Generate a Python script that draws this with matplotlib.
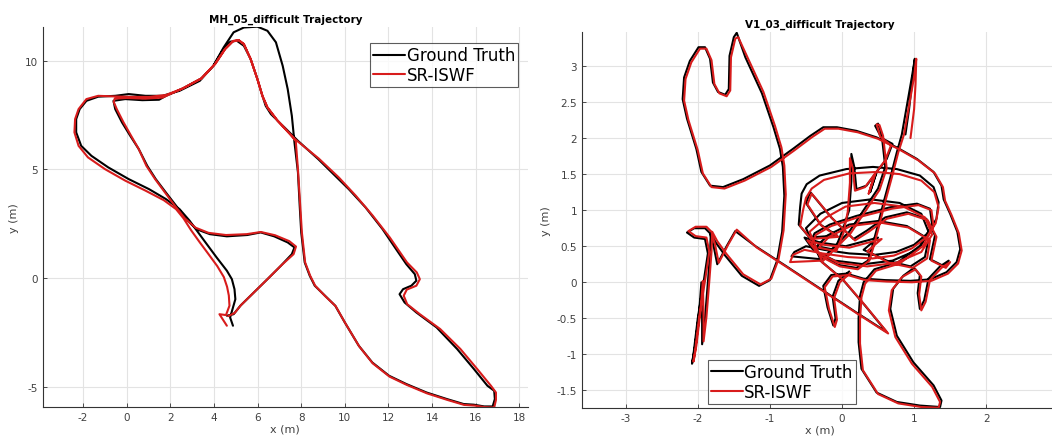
import matplotlib
matplotlib.use("Agg")
import matplotlib.pyplot as plt

plt.rcParams['font.family'] = ['DejaVu Sans']
plt.rcParams['axes.unicode_minus'] = False

# ---- MH_05_difficult (left) ----
mh_gt_x = [4.87, 4.74, 4.98, 4.94, 4.82, 4.59, 4.12, 3.5, 2.88, 2.42, 1.8, 1.02, 0.09, -0.85, -1.62,
           -2.09, -2.32, -2.32, -2.16, -1.85, -1.31, -0.53, 0.09, 0.86, 1.64, 2.42, 3.35, 3.97, 4.44,
           4.9, 5.37, 5.99, 6.45, 6.84, 7.15, 7.38, 7.57, 7.69, 7.85, 7.93, 8.0, 8.16, 8.39, 8.62, 9.09,
           9.56, 10.0, 10.64, 11.26, 12.03, 12.82, 13.75, 14.68, 15.45, 15.92, 16.39, 16.78, 16.88,
           16.85, 16.54, 15.92, 15.15, 14.21, 13.28, 12.74, 12.51, 12.67, 13.05, 13.28, 13.21, 12.82,
           12.35, 11.73, 10.95, 10.18, 9.56, 8.78, 7.85, 7.23, 6.61, 6.37, 6.22, 5.99, 5.68, 5.37,
           5.05, 4.75, 4.44, 3.97, 3.42, 2.57, 1.8, 1.48, 0.71, -0.07, -0.61, -0.53, -0.22, 0.16,
           0.55, 0.94, 1.33, 1.79, 2.26, 2.72, 3.19, 3.81, 4.59, 5.52, 6.14, 6.76, 7.38, 7.69, 7.57,
           7.07, 6.45, 5.83, 5.21, 4.9, 4.59]
mh_gt_y = [-2.19, -1.81, -0.97, -0.51, -0.05, 0.34, 0.95, 1.79, 2.64, 3.17, 3.63, 4.09, 4.55, 5.09,
           5.62, 6.08, 6.7, 7.31, 7.77, 8.15, 8.34, 8.38, 8.46, 8.38, 8.38, 8.61, 9.07, 9.76, 10.6,
           11.3, 11.52, 11.56, 11.37, 10.84, 9.76, 8.69, 7.46, 6.24, 4.86, 3.33, 2.1, 0.72, 0.11,
           -0.35, -0.81, -1.27, -2.04, -3.11, -3.88, -4.49, -4.87, -5.26, -5.56, -5.79, -5.82, -5.9,
           -5.9, -5.56, -5.18, -4.95, -4.18, -3.26, -2.27, -1.58, -1.12, -0.74, -0.51, -0.35, -0.12,
           0.18, 0.64, 1.33, 2.25, 3.25, 4.09, 4.7, 5.47, 6.31, 6.93, 7.54, 7.92, 8.38, 9.15, 10.07,
           10.68, 10.91, 10.87, 10.53, 9.76, 9.18, 8.72, 8.38, 8.2, 8.18, 8.23, 8.15, 7.77, 7.16,
           6.54, 5.93, 5.16, 4.55, 3.94, 3.33, 2.71, 2.25, 2.02, 1.92, 1.98, 2.1, 1.92, 1.64, 1.41,
           1.1, 0.57, -0.05, -0.66, -1.27, -1.66, -1.73]

mh_est_x = [4.59, 4.25, 4.55, 4.71, 4.68, 4.6, 4.45, 4.15, 3.75, 3.35, 2.95, 2.6, 2.26, 1.7, 0.86,
            -0.07, -1.0, -1.78, -2.21, -2.4, -2.37, -2.21, -1.85, -1.31, -0.53, 0.24, 1.02, 1.8,
            2.57, 3.42, 4.05, 4.51, 4.9, 5.13, 5.37, 5.68, 5.99, 6.22, 6.45, 6.92, 7.5, 7.75, 7.85,
            7.95, 8.03, 8.18, 8.41, 8.64, 9.1, 9.58, 10.02, 10.66, 11.28, 12.05, 12.84, 13.77, 14.7,
            15.47, 15.95, 16.4, 16.85, 16.93, 16.93, 16.7, 16.07, 15.3, 14.37, 13.44, 12.86, 12.7,
            12.84, 13.28, 13.44, 13.3, 12.85, 12.06, 11.28, 10.5, 9.72, 8.8, 7.7, 6.92, 6.45, 6.22,
            5.99, 5.68, 5.37, 5.13, 4.85, 4.51, 4.05, 3.42, 2.57, 1.64, 0.86, 0.0, -0.55, -0.6,
            -0.45, -0.15, 0.2, 0.55, 0.9, 1.3, 1.75, 2.2, 2.66, 3.15, 3.75, 4.55, 5.5, 6.15, 6.8,
            7.45, 7.76, 7.65, 7.1, 6.48, 5.86, 5.24, 4.95, 4.65]
mh_est_y = [-2.19, -1.66, -1.7, -1.27, -0.8, -0.4, 0.05, 0.55, 1.1, 1.64, 2.2, 2.75, 3.17, 3.58,
            4.02, 4.48, 5.01, 5.55, 6.08, 6.7, 7.31, 7.77, 8.23, 8.38, 8.35, 8.33, 8.33, 8.42, 8.72,
            9.18, 9.84, 10.53, 10.91, 10.94, 10.76, 10.07, 9.15, 8.38, 7.85, 7.23, 6.6, 6.3, 5.0,
            3.4, 2.1, 0.72, 0.11, -0.35, -0.83, -1.29, -2.07, -3.14, -3.92, -4.53, -4.91, -5.3,
            -5.6, -5.83, -5.86, -5.93, -5.95, -5.6, -5.26, -4.95, -4.18, -3.26, -2.34, -1.66, -1.2,
            -0.81, -0.53, -0.35, -0.05, 0.26, 0.72, 1.87, 2.87, 3.79, 4.63, 5.5, 6.4, 7.23, 7.85,
            8.38, 9.15, 10.07, 10.76, 10.94, 10.88, 10.53, 9.84, 9.18, 8.72, 8.3, 8.25, 8.28, 8.25,
            8.1, 7.75, 7.16, 6.54, 5.93, 5.16, 4.55, 3.94, 3.33, 2.75, 2.32, 2.08, 1.98, 2.02, 2.12,
            1.97, 1.7, 1.45, 1.1, 0.6, -0.02, -0.63, -1.24, -1.6, -1.75]

# ---- V1_03_difficult (right) ----
v1_gt_x = [0.88, 0.93, 0.97, 1.01, 0.97, 0.9, 0.83, 0.76, 0.67, 0.58, 0.5, 0.42, 0.36,
           0.2, -0.05, -0.3, -0.44, -0.38, -0.17, 0.2, 0.67, 1.04, 1.22, 1.25, 1.1, 0.78, 0.45,
           0.3, 0.25, 0.23, 0.23, 0.27, 0.48, 0.76, 1.08, 1.36, 1.38, 1.27, 0.99, 0.76, 0.67, 0.71, 0.85,
           1.0, 1.08, 1.05, 1.08, 1.14, 1.2, 1.36, 1.48, 1.42, 1.22,
           1.29, 1.17, 0.9, 0.6, 0.35, 0.16, -0.15, -0.44, -0.5, -0.3, -0.07, -0.45, -0.6,
           -0.58, -0.56, -0.49, -0.31, 0.06, 0.43, 0.76, 1.08, 1.27, 1.34, 1.31, 1.2, 1.0, 0.75,
           0.45, 0.1, -0.25, -0.5, -0.66, -0.7, -0.3,
           -0.5, -0.3, 0.0, 0.4, 0.8, 1.1, 1.2, 1.05, 0.7, 0.3, -0.1, -0.4, -0.52, -0.3, 0.05,
           0.5, 0.3, 0.62, 0.95, 1.15, 1.2, 0.9, 0.5, 0.1, -0.2, -0.35, -0.1, 0.0,
           0.1, 0.13, 0.13, 0.17, 0.2, 0.34, 0.48, 0.39, 0.48, 0.62, 0.7, 0.55, 0.46, 0.5, 0.55,
           0.6, 0.5, 0.3, 0.1, -0.1, -0.3, 0.0, 0.3, 0.62, 0.2, -0.3, -0.8, -1.2, -1.48,
           -1.6, -1.73, -1.78, -1.83, -1.9, -2.05, -2.15, -2.05, -1.9, -1.86, -1.92, -2.0, -2.06,
           -2.08, -2.04, -1.98, -1.95, -1.94, -1.94, -1.9, -1.86, -1.83, -1.82, -1.75, -1.62, -1.39,
           -1.15, -1.0, -0.9, -0.83, -0.8, -0.82, -0.86, -0.95, -1.11, -1.34, -1.46, -1.5, -1.56,
           -1.57, -1.62, -1.72, -1.79, -1.83, -1.9, -1.99, -2.11, -2.19, -2.21, -2.15, -2.02, -1.95,
           -1.83, -1.65, -1.37, -1.0, -0.68, -0.44, -0.26, -0.07, 0.2, 0.48, 0.76, 1.04, 1.27, 1.38,
           1.41, 1.5, 1.6, 1.64, 1.59, 1.45, 1.22, 0.95, 0.6, 0.3, 0.06, -0.15, -0.26, -0.2, -0.12,
           -0.09, -0.13, -0.05, 0.1]
v1_gt_y = [2.05, 2.4, 2.75, 3.1, 2.85, 2.45, 2.05, 1.8, 1.45, 1.12, 0.8, 0.5, 0.3,
           0.2, 0.24, 0.37, 0.55, 0.68, 0.8, 0.92, 1.04, 1.09, 1.02, 0.8, 0.52, 0.28, 0.18,
           0.0, -0.19, -0.5, -0.83, -1.2, -1.53, -1.66, -1.71, -1.73, -1.64, -1.43, -1.11, -0.74,
           -0.37, -0.09, 0.09,
           0.2, 0.1, -0.15, -0.37, -0.25, 0.05, 0.22, 0.3, 0.22, 0.32,
           0.65, 0.88, 0.97, 0.9, 0.72, 0.6, 0.9, 1.25, 1.1, 0.8, 0.65, 0.62, 0.8,
           1.05, 1.23, 1.36, 1.48, 1.57, 1.6, 1.57, 1.48, 1.32, 1.11, 0.88, 0.69, 0.52, 0.42,
           0.38, 0.4, 0.45, 0.5, 0.42, 0.36, 0.32,
           0.75, 0.95, 1.1, 1.15, 1.1, 0.95, 0.7, 0.45, 0.3, 0.25, 0.3, 0.45, 0.62, 0.55, 0.5,
           0.62, 0.45, 0.3, 0.22, 0.35, 0.6, 0.78, 0.85, 0.8, 0.65, 0.5, 0.45, 0.7,
           1.0, 1.4, 1.78, 1.6, 1.29, 1.34, 1.53, 1.25, 1.53, 1.71, 1.92, 2.0, 2.17, 2.2, 2.05,
           1.6, 1.3, 1.0, 0.7, 0.5, 0.3, 0.05, -0.3, -0.69, -0.42, -0.09, 0.24, 0.5, 0.71,
           0.5, 0.25, 0.5, 0.68, 0.75, 0.75, 0.69, 0.62, 0.6, 0.4, 0.0, -0.5, -1.0,
           -1.13, -0.9, -0.4, 0.0, -0.5, -0.86, -0.5, 0.0, 0.4, 0.68, 0.55, 0.37, 0.09,
           -0.05, 0.03, 0.3, 0.7, 1.2, 1.6, 1.85, 2.15, 2.62, 3.12, 3.46, 3.4, 3.14,
           2.68, 2.6, 2.64, 2.77, 3.1, 3.26, 3.26, 3.07, 2.84, 2.54, 2.27, 1.85, 1.53,
           1.34, 1.32, 1.43, 1.62, 1.85, 2.03, 2.15, 2.15, 2.1, 2.01, 1.87, 1.71, 1.53, 1.34,
           1.15, 0.95, 0.7, 0.46, 0.28, 0.14, 0.04, 0.02, 0.03, 0.05, 0.12, 0.1, -0.05, -0.35, -0.6,
           -0.5, -0.2, 0.02, 0.15]

v1_est_x = [0.95, 1.0, 1.02, 1.03, 1.0, 0.93, 0.86, 0.78, 0.69, 0.6, 0.52, 0.44, 0.38,
            0.22, -0.03, -0.28, -0.42, -0.36, -0.15, 0.22, 0.69, 1.06, 1.24, 1.27, 1.12, 0.8, 0.47,
            0.32, 0.27, 0.25, 0.25, 0.29, 0.5, 0.78, 1.1, 1.34, 1.36, 1.25, 0.97, 0.74, 0.65, 0.69, 0.83,
            1.02, 1.1, 1.07, 1.1, 1.16, 1.22, 1.38, 1.5, 1.44, 1.24,
            1.31, 1.19, 0.92, 0.62, 0.37, 0.18, -0.13, -0.42, -0.48, -0.28, -0.05, -0.43, -0.58,
            -0.54, -0.5, -0.42, -0.25, 0.1, 0.48, 0.8, 1.1, 1.28, 1.34, 1.3, 1.18, 0.97, 0.72,
            0.42, 0.08, -0.27, -0.52, -0.68, -0.72, -0.28,
            -0.45, -0.22, 0.05, 0.45, 0.85, 1.15, 1.25, 1.1, 0.75, 0.35, -0.05, -0.35, -0.48, -0.25, 0.1,
            0.55, 0.35, 0.65, 0.98, 1.18, 1.22, 0.92, 0.52, 0.12, -0.18, -0.32, -0.08, 0.02,
            0.08, 0.11, 0.11, 0.15, 0.18, 0.32, 0.46, 0.37, 0.46, 0.6, 0.68, 0.53, 0.48, 0.52, 0.57,
            0.62, 0.52, 0.32, 0.12, -0.08, -0.28, 0.02, 0.32, 0.64, 0.22, -0.28, -0.78, -1.18, -1.46,
            -1.58, -1.71, -1.76, -1.81, -1.88, -2.03, -2.13, -2.03, -1.88, -1.84, -1.9, -1.98, -2.04,
            -2.06, -2.02, -1.96, -1.93, -1.92, -1.92, -1.88, -1.84, -1.81, -1.8, -1.73, -1.6, -1.37,
            -1.13, -0.98, -0.88, -0.81, -0.78, -0.8, -0.84, -0.93, -1.09, -1.32, -1.44, -1.48, -1.54,
            -1.55, -1.6, -1.7, -1.77, -1.81, -1.88, -1.97, -2.09, -2.17, -2.19, -2.13, -2.0, -1.93,
            -1.81, -1.63, -1.35, -0.98, -0.66, -0.42, -0.24, -0.05, 0.22, 0.5, 0.78, 1.06, 1.29, 1.4,
            1.43, 1.52, 1.62, 1.66, 1.61, 1.47, 1.24, 0.97, 0.62, 0.32, 0.08, -0.13, -0.24, -0.18,
            -0.1, -0.07, -0.11, -0.03, 0.12]
v1_est_y = [2.0, 2.4, 2.75, 3.1, 2.85, 2.45, 2.05, 1.8, 1.45, 1.12, 0.8, 0.5, 0.3,
            0.18, 0.22, 0.35, 0.53, 0.66, 0.78, 0.9, 1.02, 1.07, 1.0, 0.78, 0.5, 0.26, 0.16,
            -0.02, -0.21, -0.52, -0.85, -1.22, -1.55, -1.68, -1.73, -1.74, -1.66, -1.45, -1.13,
            -0.76, -0.39, -0.11, 0.07,
            0.18, 0.08, -0.17, -0.39, -0.27, 0.03, 0.2, 0.28, 0.2, 0.3,
            0.63, 0.86, 0.95, 0.88, 0.7, 0.58, 0.88, 1.23, 1.08, 0.78, 0.63, 0.6, 0.78,
            1.0, 1.17, 1.3, 1.42, 1.51, 1.53, 1.5, 1.41, 1.25, 1.04, 0.82, 0.63, 0.47, 0.37,
            0.33, 0.35, 0.4, 0.45, 0.38, 0.28, 0.3,
            0.7, 0.9, 1.05, 1.1, 1.05, 0.9, 0.66, 0.42, 0.27, 0.22, 0.27, 0.42, 0.58, 0.52, 0.48,
            0.6, 0.43, 0.27, 0.2, 0.33, 0.58, 0.76, 0.83, 0.78, 0.63, 0.48, 0.43, 0.68,
            0.98, 1.38, 1.72, 1.58, 1.27, 1.32, 1.51, 1.23, 1.51, 1.69, 1.9, 2.02, 2.19, 2.18, 2.03,
            1.58, 1.28, 0.98, 0.68, 0.48, 0.28, 0.03, -0.32, -0.71, -0.44, -0.11, 0.22, 0.48, 0.73,
            0.52, 0.27, 0.52, 0.7, 0.77, 0.77, 0.71, 0.64, 0.62, 0.42, 0.02, -0.48, -0.98,
            -1.1, -0.88, -0.38, 0.02, -0.48, -0.82, -0.48, 0.02, 0.42, 0.7, 0.57, 0.39, 0.11,
            -0.03, 0.05, 0.32, 0.72, 1.22, 1.62, 1.87, 2.17, 2.64, 3.14, 3.4, 3.38, 3.12,
            2.66, 2.58, 2.62, 2.75, 3.08, 3.24, 3.24, 3.05, 2.82, 2.52, 2.25, 1.83, 1.51,
            1.32, 1.3, 1.41, 1.6, 1.83, 2.01, 2.13, 2.13, 2.08, 1.99, 1.85, 1.69, 1.51, 1.32,
            1.13, 0.93, 0.68, 0.44, 0.26, 0.12, 0.02, 0.0, 0.01, 0.03, 0.1, 0.08, -0.07, -0.37, -0.62,
            -0.52, -0.22, 0.0, 0.13]

gt_color = 'black'
est_color = '#d81c1c'
tick_color = '#404040'
line_kw = dict(linewidth=1.5, solid_joinstyle='round', solid_capstyle='round')


def style_axes(ax, title):
    ax.set_title(title, fontsize=7.5, fontweight='bold', pad=4)
    ax.grid(True, color='#e3e3e3', linewidth=0.8)
    ax.set_axisbelow(True)
    for side in ('top', 'right'):
        ax.spines[side].set_visible(False)
    for side in ('left', 'bottom'):
        ax.spines[side].set_color('#333333')
        ax.spines[side].set_linewidth(0.8)
    ax.tick_params(direction='in', length=3, width=0.6, colors='#333333',
                   labelsize=7.5, labelcolor=tick_color)
    ax.set_xlabel('x (m)', fontsize=8, color=tick_color, labelpad=1)
    ax.set_ylabel('y (m)', fontsize=8, color=tick_color, labelpad=4)


def add_legend(ax, x_px, y_px):
    leg = ax.legend(loc='upper left', bbox_to_anchor=(x_px / 1052, 1 - y_px / 439),
                    bbox_transform=fig.transFigure, fontsize=12, frameon=True, fancybox=False,
                    handlelength=1.9, handletextpad=0.1, borderpad=0.2, labelspacing=0.1,
                    borderaxespad=0)
    leg.get_frame().set_edgecolor('#333333')
    leg.get_frame().set_linewidth(0.8)


fig = plt.figure(figsize=(10.52, 4.39), dpi=100)

ax1 = fig.add_axes([42.6 / 1052, 1 - 408.3 / 439, 485.4 / 1052, 380 / 439])
ax1.plot(mh_gt_x, mh_gt_y, color=gt_color, label='Ground Truth', **line_kw)
ax1.plot(mh_est_x, mh_est_y, color=est_color, label='SR-ISWF', **line_kw)
ax1.set_xlim(-3.86, 18.4)
ax1.set_ylim(-5.94, 11.53)
ax1.set_xticks(range(-2, 19, 2))
ax1.set_yticks([-5, 0, 5, 10])
style_axes(ax1, 'MH_05_difficult Trajectory')
add_legend(ax1, 370, 44)

ax2 = fig.add_axes([582 / 1052, 1 - 409.3 / 439, 476.3 / 1052, 376 / 439])
ax2.plot(v1_gt_x, v1_gt_y, color=gt_color, label='Ground Truth', **line_kw)
ax2.plot(v1_est_x, v1_est_y, color=est_color, label='SR-ISWF', **line_kw)
ax2.set_xlim(-3.606, 3.0)
ax2.set_ylim(-1.748, 3.467)
ax2.set_xticks([-3, -2, -1, 0, 1, 2])
ax2.set_yticks([-1.5, -1, -0.5, 0, 0.5, 1, 1.5, 2, 2.5, 3])
ax2.set_yticklabels(['-1.5', '-1', '-0.5', '0', '0.5', '1', '1.5', '2', '2.5', '3'])
style_axes(ax2, 'V1_03_difficult Trajectory')
add_legend(ax2, 707.7, 360.7)

fig.savefig('out.png', dpi=100)
